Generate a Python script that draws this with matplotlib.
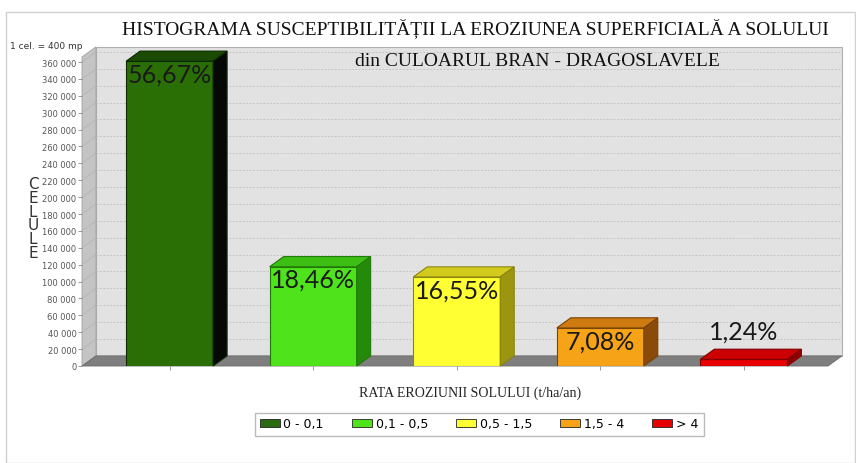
import matplotlib.pyplot as plt
from matplotlib.patches import Polygon, Rectangle, Patch
from matplotlib.ticker import FuncFormatter

# erosion-rate classes and their share of the grid cells
classes = ["0 - 0,1", "0,1 - 0,5", "0,5 - 1,5", "1,5 - 4", "> 4"]
percent = [56.67, 18.46, 16.55, 7.08, 1.24]
total_cells = 637000
cells = [p / 100 * total_cells for p in percent]

front_colors = ["#2a6e06", "#4ee31a", "#ffff33", "#f7a318", "#e60000"]
top_colors = ["#1b4a04", "#3cbf12", "#d2cb1e", "#cf7a10", "#cc0000"]
side_colors = ["#050805", "#238a0a", "#9c9510", "#8a4a08", "#900000"]
edge_colors = ["#0d2a02", "#1f7a05", "#8a8410", "#7a4206", "#800000"]

yticks = list(range(0, 360001, 20000))

fig = plt.figure(figsize=(8.56, 4.64), dpi=100)
fig.patch.set_facecolor("white")
fig.patches.append(Rectangle((6 / 856, 0), 849 / 856, 451 / 464, transform=fig.transFigure,
                             fill=False, edgecolor="#d0d0d0", lw=1))

ax = fig.add_axes([82 / 856, 97 / 464, 746 / 856, 309 / 464])
ax.patch.set_visible(False)
xl, xr = -0.61, 4.586
ymax = 366000
ax.set_xlim(xl, xr)
ax.set_ylim(0, ymax)

# depth of the pseudo-3D box, in data units
dx, dy = 0.0975, 12000
w = 0.606

# walls and floor
ax.add_patch(Polygon([(xl + dx, dy), (xr + dx, dy), (xr + dx, ymax + dy), (xl + dx, ymax + dy)],
                     closed=True, facecolor="#e2e2e2", edgecolor="#b0b0b0", lw=0.8,
                     clip_on=False, zorder=0))
ax.add_patch(Polygon([(xl, 0), (xl + dx, dy), (xl + dx, ymax + dy), (xl, ymax)],
                     closed=True, facecolor="#c4c4c4", edgecolor="#a0a0a0", lw=0.6,
                     clip_on=False, zorder=0.5))
ax.add_patch(Polygon([(xl, 0), (xr, 0), (xr + dx, dy), (xl + dx, dy)],
                     closed=True, facecolor="#7f7f7f", edgecolor="#6a6a6a", lw=0.6,
                     clip_on=False, zorder=0.5))

for v in yticks[1:]:
    ax.plot([xl + dx, xr + dx], [v + dy, v + dy], ls=(0, (2, 1.5)), color="#c6c6c6",
            lw=0.7, zorder=0.8, clip_on=False)
    ax.plot([xl, xl + dx], [v, v + dy], color="#b2b2b2", lw=0.5, zorder=0.8, clip_on=False)

x = list(range(len(classes)))
ax.bar(x, cells, width=w, color=front_colors, edgecolor=edge_colors, linewidth=0.8, zorder=3)

for i, h in enumerate(cells):
    left, right = x[i] - w / 2, x[i] + w / 2
    ax.add_patch(Polygon([(left, h), (right, h), (right + dx, h + dy), (left + dx, h + dy)],
                         closed=True, facecolor=top_colors[i], edgecolor=edge_colors[i],
                         lw=0.8, zorder=3, clip_on=False))
    ax.add_patch(Polygon([(right, 0), (right + dx, dy), (right + dx, h + dy), (right, h)],
                         closed=True, facecolor=side_colors[i], edgecolor=edge_colors[i],
                         lw=0.8, zorder=3, clip_on=False))
    label = f"{percent[i]:.2f}%".replace(".", ",")
    if i < 4:
        ax.text(x[i], h - 1500, label, ha="center", va="top", fontsize=18,
                family="Lato", color="#1a1a1a", zorder=4)
    else:
        ax.text(x[i], h + dy + 8000, label, ha="center", va="bottom", fontsize=18,
                family="Lato", color="#1a1a1a", zorder=4)

ax.set_yticks(yticks)
ax.yaxis.set_major_formatter(FuncFormatter(lambda v, _: f"{int(v):,}".replace(",", " ")))
ax.set_xticks(x)
ax.set_xticklabels([])
ax.tick_params(axis="y", labelsize=6, labelcolor="#555555", color="#888888", length=3, width=0.6, pad=1)
ax.tick_params(axis="x", color="#888888", length=3, width=0.6)
for side in ["top", "right", "bottom", "left"]:
    ax.spines[side].set_visible(False)

fig.text(475 / 856, 1 - 28 / 464, "HISTOGRAMA SUSCEPTIBILITĂȚII LA EROZIUNEA SUPERFICIALĂ A SOLULUI",
         ha="center", va="center", family="Liberation Serif", fontsize=14, color="#111111")
fig.text(537 / 856, 1 - 62 / 464, "din CULOARUL BRAN - DRAGOSLAVELE",
         ha="center", va="center", family="Liberation Serif", fontsize=14, color="#111111")
fig.text(470 / 856, 1 - 393 / 464, "RATA EROZIUNII SOLULUI (t/ha/an)",
         ha="center", va="center", family="Liberation Serif", fontsize=10, color="#222222")
fig.text(10 / 856, 1 - 47 / 464, "1 cel. = 400 mp", ha="left", va="center",
         fontsize=6.5, color="#333333")
fig.text(33 / 856, 1 - 219 / 464, "C\nE\nL\nU\nL\nE", ha="center", va="center",
         fontsize=11, linespacing=0.9, color="#333333")

handles = [Patch(facecolor=c, edgecolor="#222222", linewidth=0.6) for c in front_colors]
handles[0] = Patch(facecolor="#2a6a10", edgecolor="#222222", linewidth=0.6)
fig.legend(handles, classes, loc="center", bbox_to_anchor=(479 / 856, 1 - 425 / 464), ncol=5,
           frameon=True, fancybox=False, edgecolor="#aaaaaa", fontsize=9, handlelength=1.6,
           handleheight=0.6, columnspacing=2.25, borderpad=0.4, handletextpad=0.3)

fig.savefig("out.png", dpi=100)
